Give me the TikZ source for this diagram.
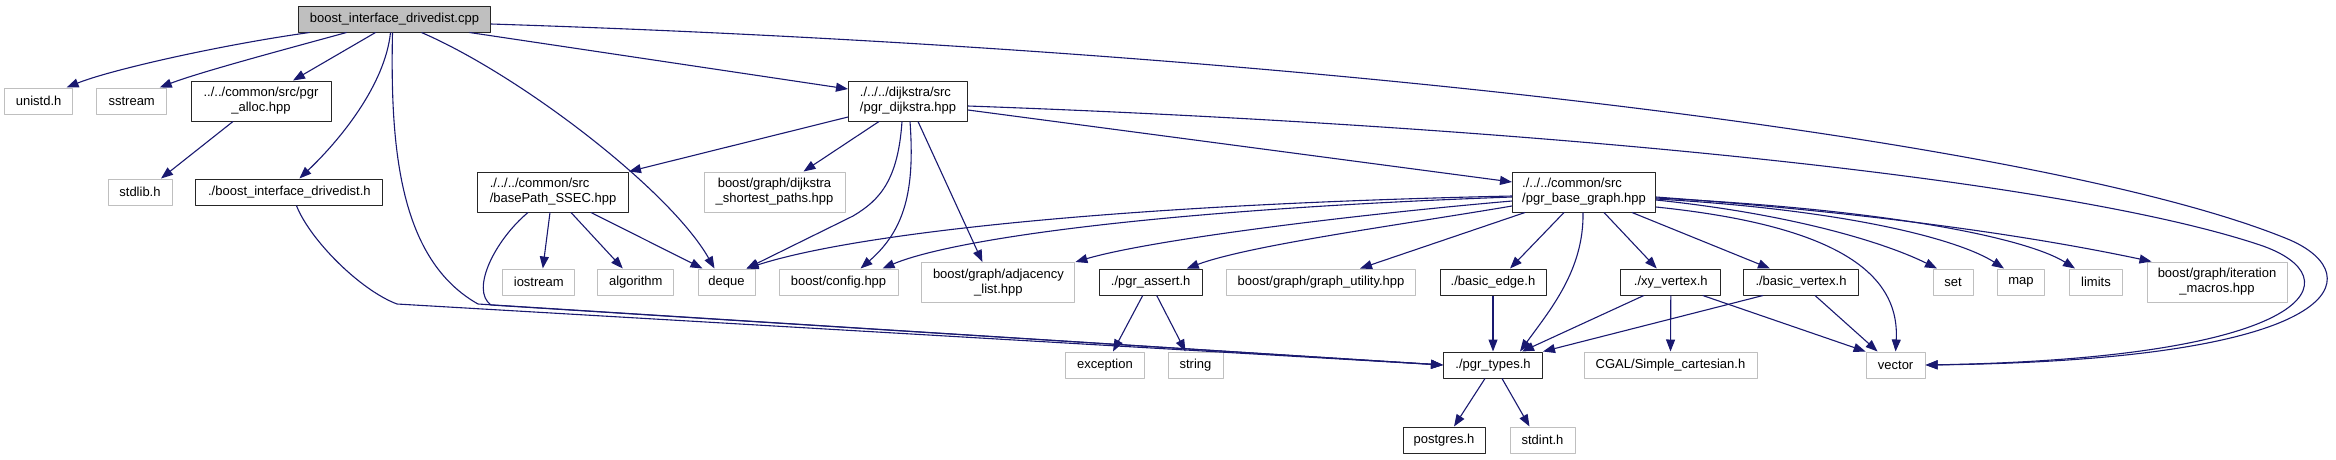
\documentclass[tikz,border=0pt]{standalone}
\usepackage{fontspec}
\setmainfont{Liberation Sans}
\usetikzlibrary{arrows.meta}
\definecolor{inclblue}{RGB}{25,25,112}
\definecolor{extgray}{RGB}{191,191,191}

\begin{document}
\begin{tikzpicture}[x=1pt,y=-1pt,line join=round,
  file/.style={line width=1pt,inner sep=0pt,font=\fontsize{13}{15}\selectfont,minimum height=26pt},
  docfile/.style={file,draw=black!85},
  extfile/.style={file,draw=extgray},
  incl/.style={draw=inclblue,line width=1.1pt,-{Triangle[length=12pt,width=9pt]}}]
\useasboundingbox (0,0) rectangle (2336,459);
% files
\node[docfile,fill=extgray,minimum width=192pt] (root) at (394.5,19) {boost\_interface\_drivedist.cpp};
\node[extfile,minimum width=68pt] (unistd) at (38.6,101) {unistd.h};
\node[extfile,minimum width=70pt] (sstream) at (131.7,101) {sstream};
\node[docfile,minimum width=140pt,minimum height=40pt,align=center] (alloc) at (261,101) {../../common/src/pgr\\\_alloc.hpp};
\node[extfile,minimum width=64pt] (stdlib) at (140,192) {stdlib.h};
\node[docfile,minimum width=187pt] (drivedist) at (289.4,192) {./boost\_interface\_drivedist.h};
\node[docfile,minimum width=151pt,minimum height=40pt,align=left] (basepath) at (553,192) {./../../common/src\\/basePath\_SSEC.hpp};
\node[extfile,minimum width=141pt,minimum height=40pt,align=center] (dijsp) at (774.5,192) {boost/graph/dijkstra\\\_shortest\_paths.hpp};
\node[docfile,minimum width=119pt,minimum height=40pt,align=left] (dijkstra) at (908,101) {./../../dijkstra/src\\/pgr\_dijkstra.hpp};
\node[docfile,minimum width=143pt,minimum height=40pt,align=left] (basegraph) at (1584,192) {./../../common/src\\/pgr\_base\_graph.hpp};
\node[extfile,minimum width=72pt] (iostream) at (538.8,282) {iostream};
\node[extfile,minimum width=76pt] (algorithm) at (635.8,282) {algorithm};
\node[extfile,minimum width=57pt] (deque) at (726.5,282) {deque};
\node[extfile,minimum width=119pt] (config) at (838.5,282) {boost/config.hpp};
\node[extfile,minimum width=153pt,minimum height=40pt,align=center] (adjlist) at (998.4,282.5) {boost/graph/adjacency\\\_list.hpp};
\node[docfile,minimum width=103pt] (assert) at (1150.7,282) {./pgr\_assert.h};
\node[extfile,minimum width=189pt] (graphutil) at (1321,282) {boost/graph/graph\_utility.hpp};
\node[docfile,minimum width=106pt] (basicedge) at (1493,282) {./basic\_edge.h};
\node[docfile,minimum width=100pt] (xyvertex) at (1670.8,282) {./xy\_vertex.h};
\node[docfile,minimum width=115pt] (basicvertex) at (1801,282) {./basic\_vertex.h};
\node[extfile,minimum width=40pt] (set) at (1953,282) {set};
\node[extfile,minimum width=47pt] (map) at (2021,282) {map};
\node[extfile,minimum width=53pt] (limits) at (2096,282) {limits};
\node[extfile,minimum width=140pt,minimum height=40pt,align=center] (itermacros) at (2217,282) {boost/graph/iteration\\\_macros.hpp};
\node[extfile,minimum width=79pt] (exception) at (1105,365) {exception};
\node[extfile,minimum width=55pt] (string) at (1195.5,365) {string};
\node[docfile,minimum width=99pt] (types) at (1493,365) {./pgr\_types.h};
\node[extfile,minimum width=173pt] (cgal) at (1670.5,365) {CGAL/Simple\_cartesian.h};
\node[extfile,minimum width=59pt] (vector) at (1895.6,365) {vector};
\node[docfile,minimum width=82pt] (postgres) at (1444,440) {postgres.h};
\node[extfile,minimum width=65pt] (stdint) at (1542.5,440) {stdint.h};
% includes of the .cpp
\draw[incl] ([xshift=-85pt]root.south) .. controls (220,45) and (110,70) .. ([xshift=28pt]unistd.north);
\draw[incl] ([xshift=-48pt]root.south) .. controls (290,48) and (200,72) .. ([xshift=28pt]sstream.north);
\draw[incl] ([xshift=-19pt]root.south) -- ([xshift=32pt]alloc.north);
\draw[incl] ([xshift=-4pt]root.south) .. controls (385,85) and (340,140) .. ([xshift=10pt]drivedist.north);
\draw[incl] ([xshift=-2pt]root.south) .. controls (390,150) and (400,260) .. (478,304) -- (types.west);
\draw[incl] ([xshift=27pt]root.south) .. controls (520,75) and (670,190) .. ([xshift=-12pt]deque.north);
\draw[incl] ([xshift=75pt]root.south) -- ([yshift=12pt]dijkstra.west);
\draw[incl] ([yshift=-5pt]root.east) .. controls (1300,50) and (2050,140) .. (2290,240) .. controls (2370,275) and (2350,360) .. (vector.east);
% headers
\draw[incl] ([xshift=-28pt]alloc.south) -- ([xshift=21pt]stdlib.north);
\draw[incl] ([xshift=7pt]drivedist.south) .. controls (310,240) and (360,290) .. (397,304) -- (types.west);
\draw[incl] ([xshift=-25pt]basepath.south) .. controls (495,240) and (470,290) .. (491,305) -- (types.west);
\draw[incl] ([xshift=-3pt]basepath.south) -- ([xshift=4pt]iostream.north);
\draw[incl] ([xshift=18pt]basepath.south) -- ([xshift=-13pt]algorithm.north);
\draw[incl] ([xshift=38pt]basepath.south) -- ([xshift=-24pt]deque.north);
% pgr_dijkstra
\draw[incl] ([yshift=-16pt]dijkstra.west) -- (basepath.north east);
\draw[incl] ([xshift=-29pt]dijkstra.south) -- ([xshift=29pt]dijsp.north);
\draw[incl] ([xshift=-6pt]dijkstra.south) .. controls (898,180) and (880,200) .. (853,216) -- ([xshift=20pt]deque.north);
\draw[incl] ([xshift=2pt]dijkstra.south) .. controls (915,190) and (905,230) .. ([xshift=22pt]config.north);
\draw[incl] ([xshift=10pt]dijkstra.south) -- ([xshift=-16pt]adjlist.north);
\draw[incl] ([yshift=-9pt]dijkstra.east) -- ([yshift=10pt]basegraph.west);
\draw[incl] ([yshift=-5pt]dijkstra.east) .. controls (1500,125) and (2050,175) .. (2260,245) .. controls (2355,277) and (2320,358) .. (vector.east);
% pgr_base_graph
\draw[incl] ([yshift=-4pt]basegraph.west) .. controls (1100,205) and (850,235) .. ([xshift=20pt]deque.north);
\draw[incl] ([yshift=-5pt]basegraph.west) .. controls (1150,210) and (950,240) .. ([xshift=44pt]config.north);
\draw[incl] ([yshift=-9pt]basegraph.west) .. controls (1350,215) and (1150,240) .. (adjlist.north east);
\draw[incl] ([yshift=-14pt]basegraph.west) .. controls (1400,225) and (1250,245) .. ([xshift=36pt]assert.north);
\draw[incl] ([xshift=-59pt]basegraph.south) -- ([xshift=39pt]graphutil.north);
\draw[incl] ([xshift=-20pt]basegraph.south) -- ([xshift=17pt]basicedge.north);
\draw[incl] ([xshift=-1pt]basegraph.south) .. controls (1584,270) and (1550,310) .. ([xshift=27pt]types.north);
\draw[incl] ([xshift=20pt]basegraph.south) -- ([xshift=-14pt]xyvertex.north);
\draw[incl] ([xshift=48pt]basegraph.south) -- ([xshift=-31pt]basicvertex.north);
\draw[incl] ([yshift=-15pt]basegraph.east) .. controls (1830,225) and (1900,270) .. (vector.north);
\draw[incl] ([yshift=-8pt]basegraph.east) .. controls (1800,215) and (1890,245) .. ([xshift=-16pt]set.north);
\draw[incl] ([yshift=-7pt]basegraph.east) .. controls (1850,210) and (1960,240) .. ([xshift=-17pt]map.north);
\draw[incl] ([yshift=-6pt]basegraph.east) .. controls (1900,210) and (2030,240) .. ([xshift=-21pt]limits.north);
\draw[incl] ([yshift=-5pt]basegraph.east) .. controls (1900,215) and (2050,240) .. ([xshift=5pt]itermacros.north west);
% small headers
\draw[incl] ([xshift=-8pt]assert.south) -- ([xshift=8pt]exception.north);
\draw[incl] ([xshift=6pt]assert.south) -- ([xshift=-10pt]string.north);
\draw[incl] (basicedge.south) -- (types.north);
\draw[incl] ([xshift=-27pt]xyvertex.south) -- ([xshift=29pt]types.north);
\draw[incl] (xyvertex.south) -- (cgal.north);
\draw[incl] ([xshift=32pt]xyvertex.south) -- (vector.north west);
\draw[incl] ([xshift=-38pt]basicvertex.south) -- (types.north east);
\draw[incl] ([xshift=14pt]basicvertex.south) -- ([xshift=-18pt]vector.north);
\draw[incl] ([xshift=-8pt]types.south) -- ([xshift=10pt]postgres.north);
\draw[incl] ([xshift=9pt]types.south) -- ([xshift=-13pt]stdint.north);
\end{tikzpicture}
\end{document}
